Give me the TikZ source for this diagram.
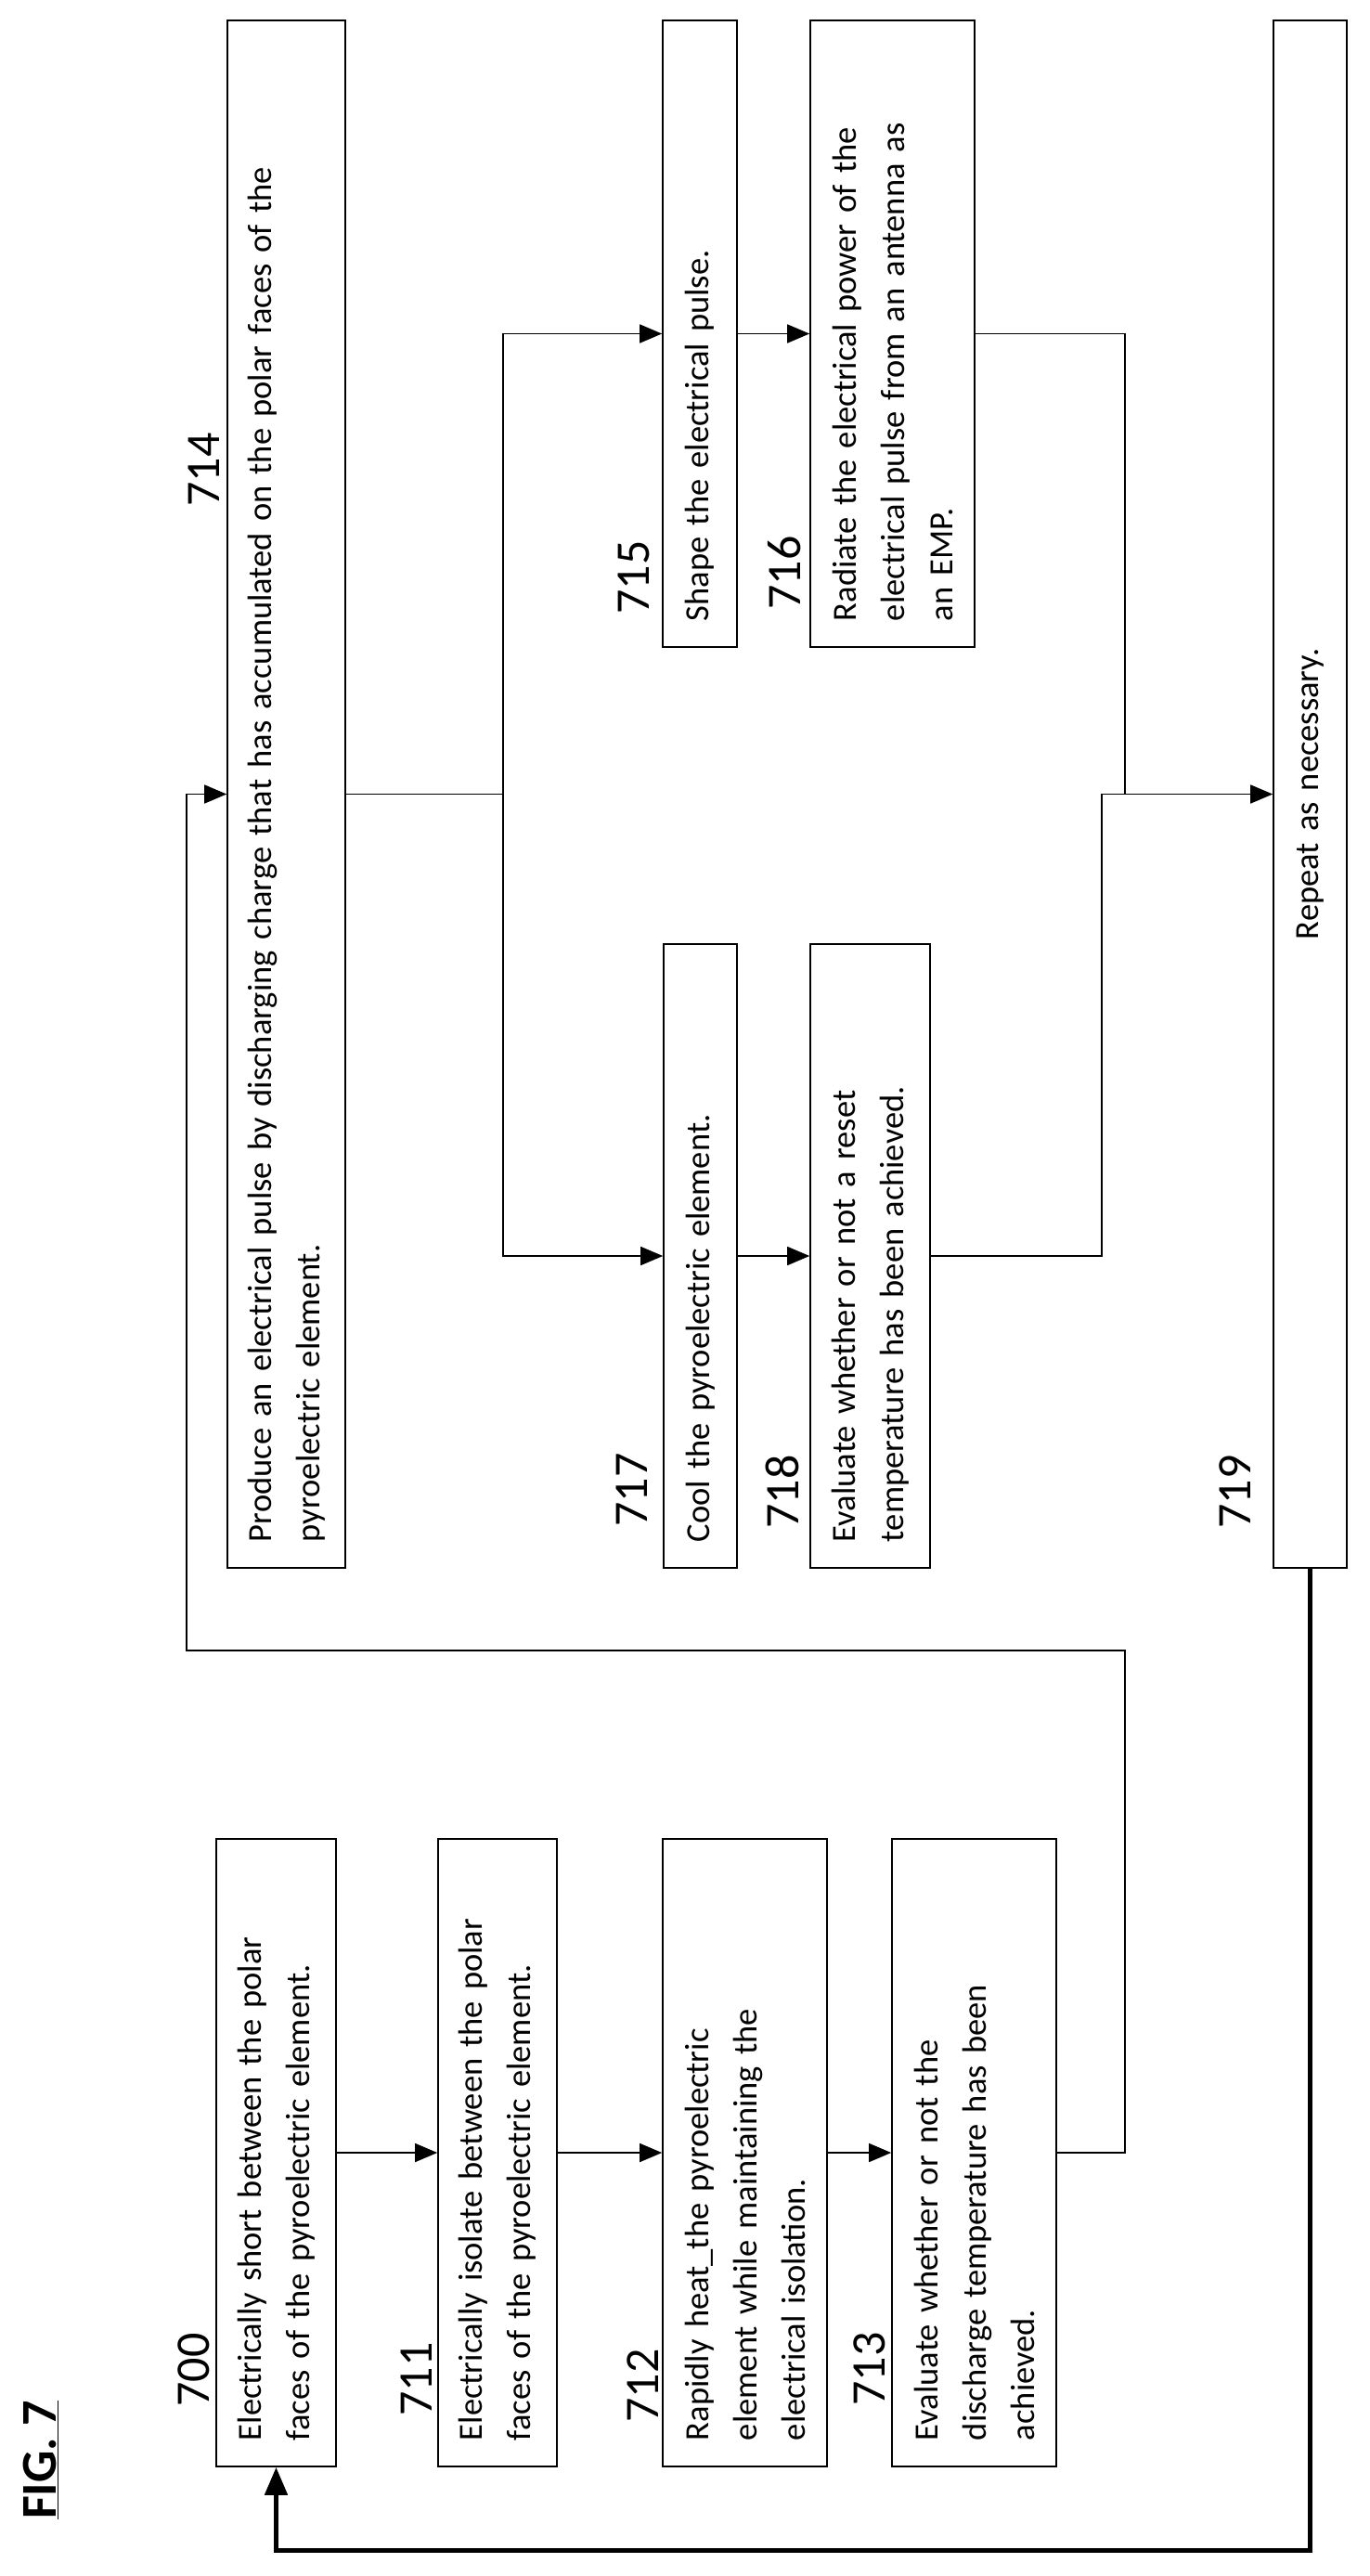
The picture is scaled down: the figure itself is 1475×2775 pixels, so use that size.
\documentclass[tikz,border=0pt]{standalone}
\usepackage{fontspec}
\setmainfont{Carlito}
\usetikzlibrary{arrows.meta}
\begin{document}
\begin{tikzpicture}[x=1pt,y=-1pt,
  box/.style={draw,line width=1.6pt,rotate=90,inner sep=0pt,font=\fontsize{36.5}{52}\selectfont,align=left},
  lbl/.style={rotate=90,font=\fontsize{52}{60}\selectfont,inner sep=0pt},
  ar/.style={line width=1.6pt,-{Triangle[length=24pt,width=20pt]}},
  ln/.style={line width=1.6pt},
  thick line/.style={line width=5pt,-{Triangle[length=30pt,width=24pt]}}]
\useasboundingbox (0,0) rectangle (1475,2775);
\node[box,minimum width=676pt,minimum height=129pt,text width=620pt] (n700) at (297.5,2319) {Electrically short between the polar\\faces of the pyroelectric element.};
\node[box,minimum width=676pt,minimum height=128pt,text width=620pt] (n711) at (536,2319) {Electrically isolate between the polar\\faces of the pyroelectric element.};
\node[box,minimum width=676pt,minimum height=177pt,text width=620pt] (n712) at (802.5,2319) {Rapidly heat\_the pyroelectric\\element while maintaining the\\electrical isolation.};
\node[box,minimum width=676pt,minimum height=177pt,text width=620pt] (n713) at (1049.5,2319) {Evaluate whether or not the\\discharge temperature has been\\achieved.};
\node[box,minimum width=1667pt,minimum height=127pt,text width=1611pt] (n714) at (308.5,855.5) {Produce an electrical pulse by discharging charge that has accumulated on the polar faces of the\\pyroelectric element.};
\node[box,minimum width=675pt,minimum height=80pt,text width=619pt] (n715) at (754,359.5) {Shape the electrical pulse.};
\node[box,minimum width=675pt,minimum height=177pt,text width=619pt] (n716) at (961.5,359.5) {Radiate the electrical power of the\\electrical pulse from an antenna as\\an EMP.};
\node[box,minimum width=672pt,minimum height=79pt,text width=616pt] (n717) at (754.5,1353) {Cool the pyroelectric element.};
\node[box,minimum width=672pt,minimum height=129pt,text width=616pt] (n718) at (937.5,1353) {Evaluate whether or not a reset\\temperature has been achieved.};
\node[box,minimum width=1667pt,minimum height=79pt,text width=1611pt,align=center] (n719) at (1411.5,855.5) {Repeat as necessary.};
\node[lbl] (l700) at (209,2553) {700};
\node[lbl] (l711) at (449,2563) {711};
\node[lbl] (l712) at (693,2570) {712};
\node[lbl] (l713) at (937,2552) {713};
\node[lbl] (l714) at (220,506) {714};
\node[lbl] (l715) at (683,622) {715};
\node[lbl] (l716) at (845,617) {716};
\node[lbl] (l717) at (681,1605) {717};
\node[lbl] (l718) at (843,1607) {718};
\node[lbl] (l719) at (1331,1607) {719};
\node[rotate=90,font=\fontsize{54}{60}\selectfont\bfseries,inner sep=0pt] (fig) at (44,2650) {\underline{FIG. 7}};
\coordinate (c1) at (1212,2319);
\coordinate (c2) at (1212,1778);
\coordinate (c3) at (201,1778);
\coordinate (c4) at (201,855.5);
\coordinate (b1) at (542,855.5);
\coordinate (m1) at (1212,855.5);
\coordinate (m2) at (1187,855.5);
\coordinate (t1) at (1411.5,2747);
\draw[ar] (n700.south) -- (n711.north);
\draw[ar] (n711.south) -- (n712.north);
\draw[ar] (n712.south) -- (n713.north);
\draw[ar] (n713.south) -- (c1) -- (c2) -- (c3) -- (c4) -- (n714.north);
\draw[ln] (n714.south) -- (b1);
\draw[ar] (b1) |- (n715.north);
\draw[ar] (b1) |- (n717.north);
\draw[ar] (n715.south) -- (n716.north);
\draw[ar] (n717.south) -- (n718.north);
\draw[ln] (n716.south) -| (m1);
\draw[ar] (n718.south) -| (m2) -- (n719.north);
\draw[thick line] (n719.west) -- (t1) -| (n700.west);
\end{tikzpicture}
\end{document}
